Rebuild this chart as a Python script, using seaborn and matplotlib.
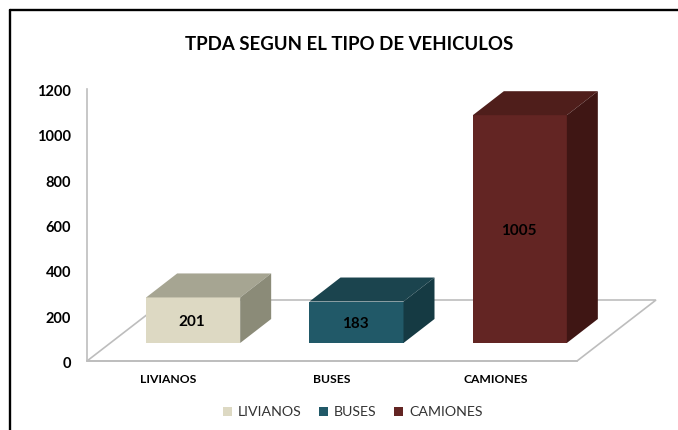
import matplotlib
matplotlib.use('Agg')
import matplotlib.pyplot as plt
from matplotlib.patches import Polygon
from matplotlib.lines import Line2D
from matplotlib.transforms import ScaledTranslation
import seaborn as sns
import pandas as pd

categories = ['LIVIANOS', 'BUSES', 'CAMIONES']
values = [201, 183, 1005]
y_ticks = [0, 200, 400, 600, 800, 1000, 1200]
front_colors = ['#DDD9C3', '#215968', '#632523']
top_colors = ['#A6A592', '#1B444E', '#4F1E1B']
side_colors = ['#8B8B78', '#153A43', '#3F1614']

W, H = 678, 430

sns.set_theme(style='white')
plt.rcParams['font.family'] = ['Lato', 'DejaVu Sans']

fig = plt.figure(figsize=(W / 100, H / 100), dpi=100)
ax = fig.add_axes([87 / W, 1 - 361 / H, 490 / W, 272 / H])

df = pd.DataFrame({'tipo': categories, 'tpda': values})
sns.barplot(data=df, x='tipo', y='tpda', hue='tipo', order=categories, hue_order=categories,
            palette=front_colors, width=94 / 163.33, dodge=False, saturation=1, legend=True,
            linewidth=0, ax=ax)
ax.set_xlim(-0.5, 2.5)
ax.set_ylim(0, 1200)

# pixel sizes of the fake 3d depth, turned into data units
px_x = 3 / 490
px_y = 1200 / 272
floor_dx, floor_dy = 79 * px_x, 61 * px_y
bar_dx, bar_dy = 31 * px_x, 24 * px_y
lift_dx, lift_dy = 24.5 * px_x, 18 * px_y

bars = [p for p in ax.patches if p.get_height() > 0]

# floor
floor = Polygon([(-0.5, 0), (2.5, 0), (2.5 + floor_dx, floor_dy), (-0.5 + floor_dx, floor_dy)],
                closed=True, facecolor='white', edgecolor='#BDBDBD', lw=1.2, zorder=0.5, clip_on=False)
ax.add_patch(floor)

# move the bars onto the floor and add top and side faces
for patch in bars:
    val = int(round(patch.get_height()))
    idx = int(round(patch.get_x() + patch.get_width() / 2))
    patch.set_x(patch.get_x() + lift_dx)
    patch.set_y(lift_dy)
    patch.set_zorder(3)
    patch.set_clip_on(False)
    x0 = patch.get_x()
    x1 = x0 + patch.get_width()
    y0 = lift_dy
    y1 = y0 + val
    top = Polygon([(x0, y1), (x1, y1), (x1 + bar_dx, y1 + bar_dy), (x0 + bar_dx, y1 + bar_dy)],
                  closed=True, facecolor=top_colors[idx], edgecolor='none', zorder=3, clip_on=False)
    side = Polygon([(x1, y0), (x1 + bar_dx, y0 + bar_dy), (x1 + bar_dx, y1 + bar_dy), (x1, y1)],
                   closed=True, facecolor=side_colors[idx], edgecolor='none', zorder=3, clip_on=False)
    ax.add_patch(top)
    ax.add_patch(side)
    ax.text((x0 + x1) / 2 - 1.5 * px_x, (y0 + y1) / 2 - 1.5 * px_y, str(val), ha='center', va='center',
            fontsize=11, fontweight='bold', color='black', zorder=4)

ax.set_xlabel('')
ax.set_ylabel('')
ax.set_yticks(y_ticks)
ax.set_xticks(range(len(categories)))
ax.set_xticklabels(categories, fontsize=8.7, fontweight='bold', color='black')
ax.set_yticklabels([str(v) for v in y_ticks], fontsize=10.5, fontweight='bold', color='black')
ax.tick_params(axis='x', length=0, pad=9.5)
ax.tick_params(axis='y', length=0, pad=11.5)

# y labels sit a little below their tick position in the reference
shift = ScaledTranslation(0, -1.5 / 100, fig.dpi_scale_trans)
for lab in ax.get_yticklabels():
    lab.set_transform(lab.get_transform() + shift)

sns.despine(ax=ax)
for s in ['left', 'bottom']:
    ax.spines[s].set_color('#BDBDBD')
    ax.spines[s].set_linewidth(1.2)
ax.patch.set_alpha(0)

sns.move_legend(ax, 'center', bbox_to_anchor=(352.5 / W, 1 - 412.5 / H), bbox_transform=fig.transFigure,
                ncol=3, frameon=False, title=None, fontsize=10.2, handlelength=0.65, handleheight=0.65,
                handletextpad=0.4, columnspacing=1.25)
for t in ax.get_legend().get_texts():
    t.set_color('#333333')

fig.suptitle('TPDA SEGUN EL TIPO DE VEHICULOS', x=349.5 / W, y=1 - 45 / H, va='center',
             fontsize=13.4, fontweight='bold', color='black')

# outer frame, cut off on the right and at the bottom
fig.add_artist(Line2D([10.3 / W, 10.3 / W], [0, 1 - 10.3 / H], color='black', lw=1.7))
fig.add_artist(Line2D([10.3 / W, 1], [1 - 10.3 / H, 1 - 10.3 / H], color='black', lw=1.7))

fig.savefig('out.png', dpi=100)
